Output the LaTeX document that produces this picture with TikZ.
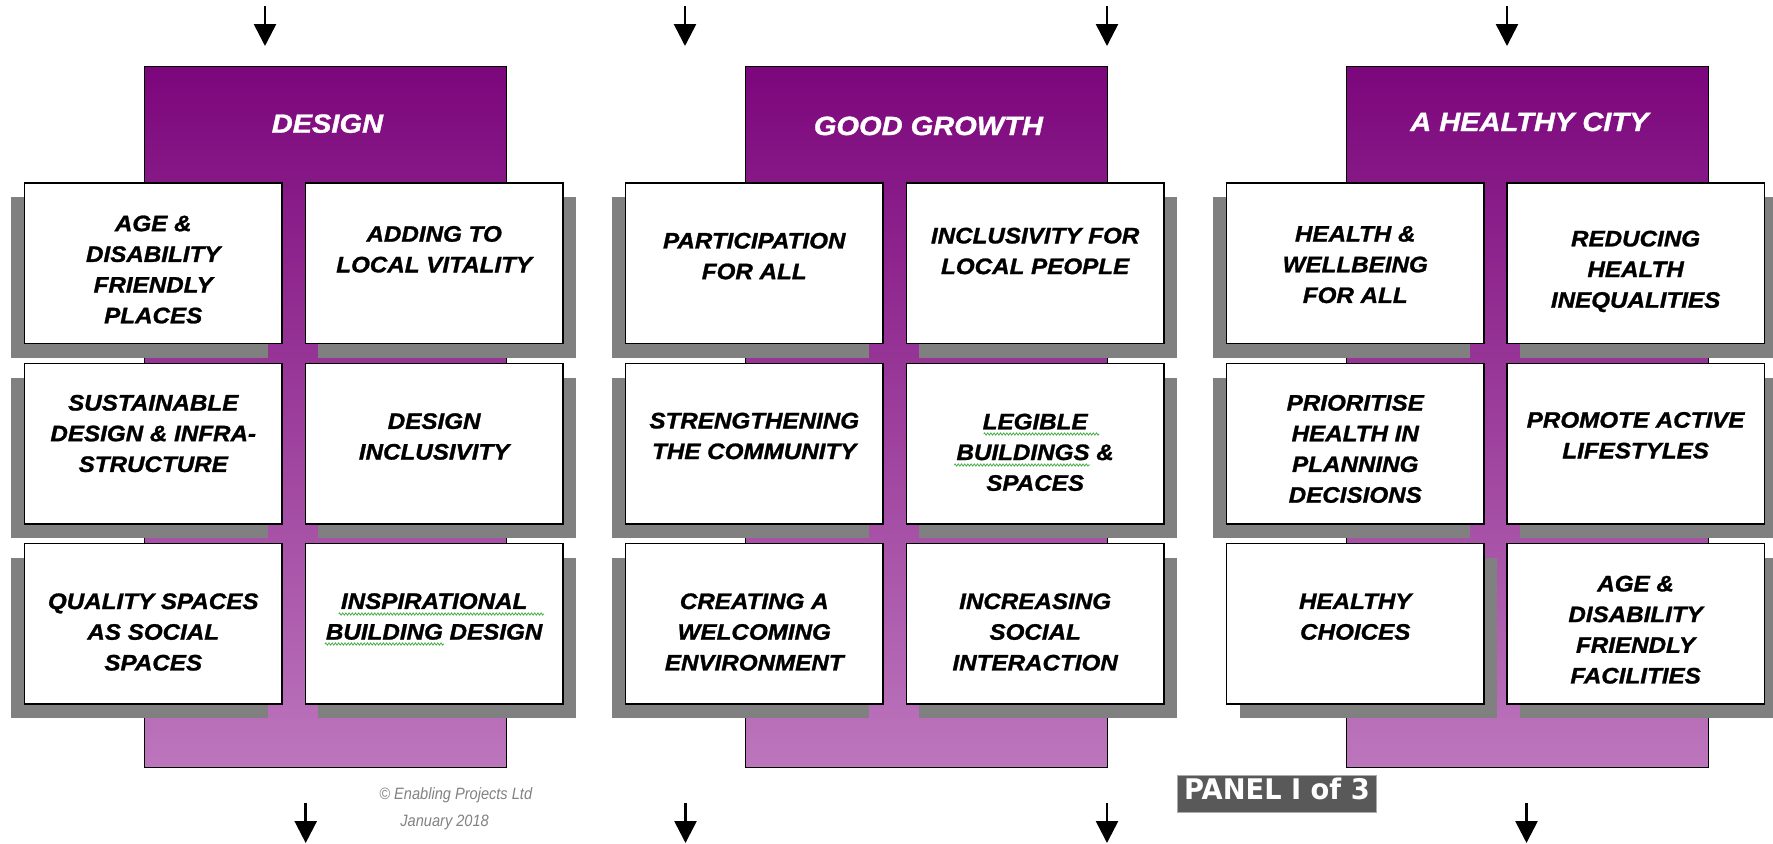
\documentclass[tikz,border=0pt]{standalone}
\usepackage{fontspec}
\usetikzlibrary{arrows.meta,shadows,decorations.pathmorphing}
\setmainfont{Liberation Sans}
\newfontfamily\cardfont[FakeStretch=1.08,FakeBold=1.2]{Liberation Sans}
\newfontfamily\titlefont[FakeStretch=1.10,FakeBold=1.2]{Liberation Sans}
\newfontfamily\footfont[FakeStretch=0.89]{Liberation Sans}
\newfontfamily\panelfont[FakeStretch=0.96]{DejaVu Sans}
\definecolor{ptop}{RGB}{124,6,124}
\definecolor{pbot}{RGB}{188,118,188}
\definecolor{shgray}{RGB}{128,128,128}
\definecolor{footgray}{RGB}{130,130,130}
\definecolor{panelbg}{RGB}{89,89,89}
\definecolor{panelbd}{RGB}{170,170,170}
\definecolor{squig}{RGB}{70,175,70}
\begin{document}
\begin{tikzpicture}[x=0.5pt,y=-0.5pt,
  panel/.style={draw=black, line width=0.5pt, top color=ptop, bottom color=pbot,
    minimum width=180.65pt, minimum height=350.25pt, inner sep=0pt},
  card/.style={draw=black, line width=0.75pt, fill=white,
    minimum width=128.75pt, minimum height=80.25pt, inner sep=0pt},
  shl/.style={general shadow={shadow xshift=-7pt, shadow yshift=-7.25pt, fill=shgray}},
  shr/.style={general shadow={shadow xshift=6.5pt, shadow yshift=-7.25pt, fill=shgray}},
  cardtext/.style={font={\cardfont\bfseries\itshape\fontsize{11.2pt}{15.35pt}\selectfont},
    align=center, inner sep=0pt, text=black},
  titletext/.style={font={\titlefont\bfseries\itshape\fontsize{13.2pt}{16pt}\selectfont},
    text=white, inner sep=0pt, anchor=base},
  foot/.style={font={\footfont\itshape\fontsize{8.2pt}{10pt}\selectfont}, text=footgray,
    inner sep=0pt, anchor=base west},
  pbox/.style={fill=panelbg, draw=panelbd, line width=0.5pt,
    minimum width=99.5pt, minimum height=18.85pt, inner sep=0pt},
  ptext/.style={font={\panelfont\bfseries\fontsize{14.2pt}{16pt}\selectfont}, text=white,
    inner sep=0pt, anchor=base},
  arr/.style={-{Triangle[width=11pt,length=11pt]}, line width=1.3pt, black},
  squiggle/.style={draw=squig, line width=0.4pt,
    decorate, decoration={zigzag, amplitude=0.55pt, segment length=1.6pt}}
]
\fill[white] (0,0) rectangle (1773,843);
\useasboundingbox (0,0) rectangle (1773,843);

% ---------- panels ----------
\node[panel] (p1) at (325.4,416.75) {};
\node[panel] (p2) at (926.4,416.75) {};
\node[panel] (p3) at (1527.4,416.75) {};

\node[titletext] (p1t) at (327.4,132.7) {DESIGN};
\node[titletext] (p2t) at (928.4,135) {GOOD GROWTH};
\node[titletext] (p3t) at (1529.4,131) {A HEALTHY CITY};

% ---------- panel 1 cards ----------
\node[card,shl] (a11) at (153.25,263) {};
\node[card,shr] (a12) at (434.15,263) {};
\node[card,shl] (a21) at (153.25,443.5) {};
\node[card,shr] (a22) at (434.15,443.5) {};
\node[card,shl] (a31) at (153.25,623.65) {};
\node[card,shr] (a32) at (434.15,623.65) {};

\node[cardtext] (a11t) at (153.25,269.5) {AGE \&\\DISABILITY\\FRIENDLY\\PLACES};
\node[cardtext] (a12t) at (434.15,249.3) {ADDING TO\\LOCAL VITALITY};
\node[cardtext] (a21t) at (153.25,433.5) {SUSTAINABLE\\DESIGN \& INFRA-\\STRUCTURE};
\node[cardtext] (a22t) at (434.15,436.5) {DESIGN\\INCLUSIVITY};
\node[cardtext] (a31t) at (153.25,632) {QUALITY SPACES\\AS SOCIAL\\SPACES};
\node[cardtext] (a32t) at (434.15,616.5) {INSPIRATIONAL\\BUILDING DESIGN};

% ---------- panel 2 cards ----------
\node[card,shl] (b11) at (754.25,263) {};
\node[card,shr] (b12) at (1035.15,263) {};
\node[card,shl] (b21) at (754.25,443.5) {};
\node[card,shr] (b22) at (1035.15,443.5) {};
\node[card,shl] (b31) at (754.25,623.65) {};
\node[card,shr] (b32) at (1035.15,623.65) {};

\node[cardtext] (b11t) at (754.25,256.1) {PARTICIPATION\\FOR ALL};
\node[cardtext] (b12t) at (1035.15,251) {INCLUSIVITY FOR\\LOCAL PEOPLE};
\node[cardtext] (b21t) at (754.25,436) {STRENGTHENING\\THE COMMUNITY};
\node[cardtext] (b22t) at (1035.15,452.3) {LEGIBLE\\BUILDINGS \&\\SPACES};
\node[cardtext] (b31t) at (754.25,632) {CREATING A\\WELCOMING\\ENVIRONMENT};
\node[cardtext] (b32t) at (1035.15,632) {INCREASING\\SOCIAL\\INTERACTION};

% ---------- panel 3 cards ----------
\node[card,shl] (c11) at (1355.25,263) {};
\node[card,shr] (c12) at (1635.6,263) {};
\node[card,shl] (c21) at (1355.25,443.5) {};
\node[card,shr] (c22) at (1635.6,443.5) {};
\node[card,shr] (c31) at (1355.25,623.65) {};
\node[card,shr] (c32) at (1635.6,623.65) {};

\node[cardtext] (c11t) at (1355.25,264.6) {HEALTH \&\\WELLBEING\\FOR ALL};
\node[cardtext] (c12t) at (1635.6,271.4) {REDUCING\\HEALTH\\INEQUALITIES};
\node[cardtext] (c21t) at (1355.25,448.9) {PRIORITISE\\HEALTH IN\\PLANNING\\DECISIONS};
\node[cardtext] (c22t) at (1635.6,435.3) {PROMOTE ACTIVE\\LIFESTYLES};
\node[cardtext] (c31t) at (1355.25,616.7) {HEALTHY\\CHOICES};
\node[cardtext] (c32t) at (1635.6,629.7) {AGE \&\\DISABILITY\\FRIENDLY\\FACILITIES};

% ---------- spell-check squiggles ----------
\path[squiggle] (338.7,614) -- (544,614);
\path[squiggle] (325,644) -- (444,644);
\path[squiggle] (983.7,434) -- (1099.3,434);
\path[squiggle] (954.3,465) -- (1090,465);

% ---------- arrows ----------
\coordinate (t1s) at (265,6);    \coordinate (t1e) at (265,46);
\coordinate (t2s) at (685,6);    \coordinate (t2e) at (685,46);
\coordinate (t3s) at (1107,6);   \coordinate (t3e) at (1107,46);
\coordinate (t4s) at (1507,6);   \coordinate (t4e) at (1507,46);
\coordinate (u1s) at (305.7,803); \coordinate (u1e) at (305.7,843);
\coordinate (u2s) at (685.5,803); \coordinate (u2e) at (685.5,843);
\coordinate (u3s) at (1107,803);  \coordinate (u3e) at (1107,843);
\coordinate (u4s) at (1526.5,803);\coordinate (u4e) at (1526.5,843);
\draw[arr] (t1s) -- (t1e);
\draw[arr] (t2s) -- (t2e);
\draw[arr] (t3s) -- (t3e);
\draw[arr] (t4s) -- (t4e);
\draw[arr] (u1s) -- (u1e);
\draw[arr] (u2s) -- (u2e);
\draw[arr] (u3s) -- (u3e);
\draw[arr] (u4s) -- (u4e);

% ---------- footer ----------
\node[foot] (cpy) at (379,799.3) {\textcopyright\ Enabling Projects Ltd};
\node[foot] (date) at (400,826.7) {January 2018};

\node[pbox] (pn) at (1276.5,793.85) {};
\node[ptext] (pnt) at (1277,799.5) {PANEL I of 3};
\end{tikzpicture}
\end{document}
